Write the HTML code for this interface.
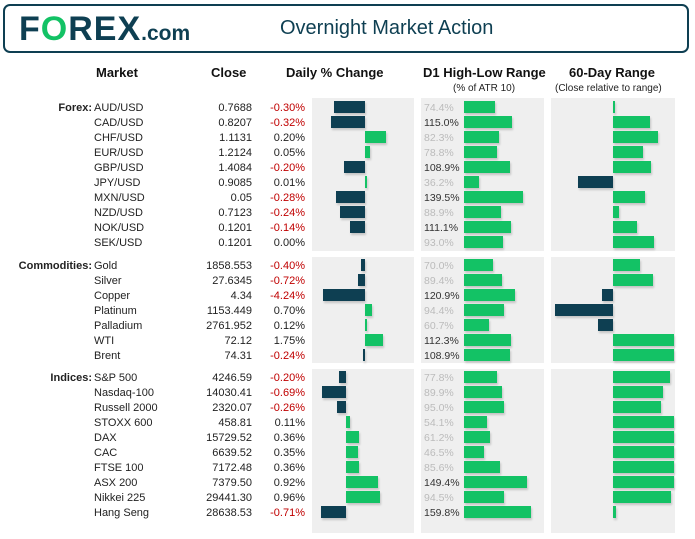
<!DOCTYPE html><html><head><meta charset="utf-8"><style>
body{margin:0;width:695px;height:539px;background:#fff;font-family:"Liberation Sans",sans-serif;position:relative;overflow:hidden}
.a{position:absolute;white-space:nowrap}
.t{font-size:11px;line-height:12px;color:#222}
.p{position:absolute;background:#efefef}
.b{position:absolute;height:12px;box-shadow:1px 2px 2px rgba(0,0,0,.18)}
.h{font-weight:bold;font-size:13px;color:#111}
</style></head><body>
<div class="a" style="left:3px;top:4px;width:682px;height:45px;border:2px solid #0e3f52;border-radius:7px"></div>
<div class="a" style="left:19px;top:10px;font-size:34px;font-weight:bold;color:#0e3f52;letter-spacing:1px">F<span style="color:#13c265">O</span>REX<span style="font-size:21px;letter-spacing:0">.com</span></div>
<div class="a" style="left:280px;top:17px;font-size:20px;color:#0e3f52">Overnight Market Action</div>
<div class="a h" style="left:96px;top:65px">Market</div>
<div class="a h" style="left:211px;top:65px">Close</div>
<div class="a h" style="left:286px;top:65px">Daily % Change</div>
<div class="a h" style="left:423px;top:65px">D1 High-Low Range</div>
<div class="a h" style="left:569px;top:65px">60-Day Range</div>
<div class="a t" style="left:453px;top:83px;font-size:10px">(% of ATR 10)</div>
<div class="a t" style="left:555px;top:83px;font-size:10px">(Close relative to range)</div>
<div id="c"></div>
<script>
var S=[
{n:"Forex:",y:107,top:98,bot:251,z:365,k:105,r:[
["AUD/USD","0.7688",-0.30,74.4,1],["CAD/USD","0.8207",-0.32,115.0,37],["CHF/USD","1.1131",0.20,82.3,45],["EUR/USD","1.2124",0.05,78.8,30],["GBP/USD","1.4084",-0.20,108.9,38],["JPY/USD","0.9085",0.01,36.2,-35],["MXN/USD","0.05",-0.28,139.5,32],["NZD/USD","0.7123",-0.24,88.9,6],["NOK/USD","0.1201",-0.14,111.1,24],["SEK/USD","0.1201",0.00,93.0,41]]},
{n:"Commodities:",y:265,top:257,bot:363,z:365,k:10,r:[
["Gold","1858.553",-0.40,70.0,27],["Silver","27.6345",-0.72,89.4,40],["Copper","4.34",-4.24,120.9,-11],["Platinum","1153.449",0.70,94.4,-58],["Palladium","2761.952",0.12,60.7,-15],["WTI","72.12",1.75,112.3,61],["Brent","74.31",-0.24,108.9,61]]},
{n:"Indices:",y:377,top:369,bot:533,z:346,k:35,r:[
["S&amp;P 500","4246.59",-0.20,77.8,57],["Nasdaq-100","14030.41",-0.69,89.9,50],["Russell 2000","2320.07",-0.26,95.0,48],["STOXX 600","458.81",0.11,54.1,61],["DAX","15729.52",0.36,61.2,61],["CAC","6639.52",0.35,46.5,61],["FTSE 100","7172.48",0.36,85.6,61],["ASX 200","7379.50",0.92,149.4,61],["Nikkei 225","29441.30",0.96,94.5,58],["Hang Seng","28638.53",-0.71,159.8,3]]}];
var h="";
S.forEach(function(s){
h+='<div class="p" style="left:312px;top:'+s.top+'px;width:102px;height:'+(s.bot-s.top)+'px"></div>';
h+='<div class="p" style="left:421px;top:'+s.top+'px;width:123px;height:'+(s.bot-s.top)+'px"></div>';
h+='<div class="p" style="left:551px;top:'+s.top+'px;width:124px;height:'+(s.bot-s.top)+'px"></div>';
h+='<div class="a t" style="right:603px;top:'+(s.y-5)+'px;font-weight:bold">'+s.n+'</div>';
s.r.forEach(function(r,i){var y=s.y+i*15,ty=y-5,by=y-6;
h+='<div class="a t" style="left:94px;top:'+ty+'px">'+r[0]+'</div>';
h+='<div class="a t" style="right:443px;top:'+ty+'px">'+r[1]+'</div>';
h+='<div class="a t" style="right:390px;top:'+ty+'px;color:'+(r[2]<0?'#c00000':'#222')+'">'+r[2].toFixed(2)+'%</div>';
var w=Math.abs(r[2])*s.k;if(w>0){w=Math.max(w,1.5);
h+='<div class="b" style="top:'+by+'px;left:'+(r[2]<0?s.z-w:s.z)+'px;width:'+w+'px;background:'+(r[2]<0?'#0e3f52':'#13c265')+'"></div>';}
h+='<div class="a t" style="left:424px;top:'+ty+'px;font-size:10.5px;color:'+(r[3]>=100?'#333':'#bbb')+'">'+r[3].toFixed(1)+'%</div>';
h+='<div class="b" style="top:'+by+'px;left:464px;width:'+(r[3]*0.42)+'px;background:#13c265"></div>';
var v=r[4],vw=Math.max(Math.abs(v),1.5);
h+='<div class="b" style="top:'+by+'px;left:'+(v<0?613-vw:613)+'px;width:'+vw+'px;background:'+(v<0?'#0e3f52':'#13c265')+'"></div>';
});});
document.getElementById("c").innerHTML=h;
</script>
</body></html>
